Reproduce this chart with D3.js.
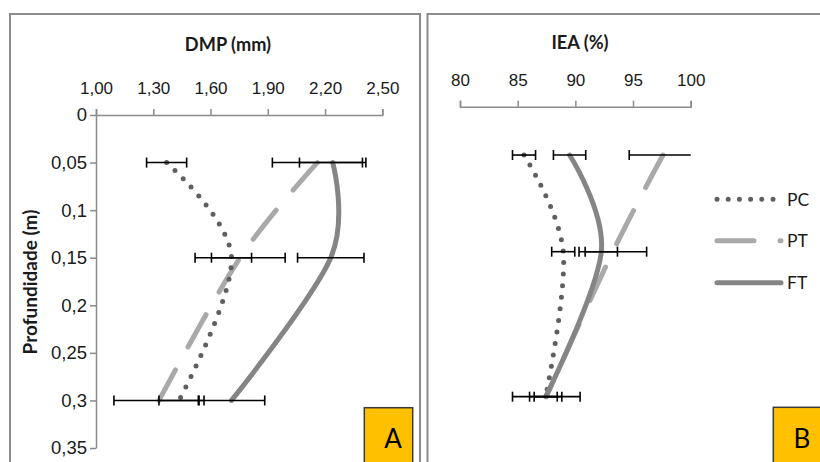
<!DOCTYPE html>
<html>
<head>
<meta charset="utf-8">
<script src="https://cdn.jsdelivr.net/npm/d3@7"></script>
<style>
  body { margin: 0; background: #fff; }
  svg { display: block; font-family: Lato, "Open Sans", sans-serif; }
</style>
</head>
<body>
<script>
// ---------- DATA ----------
const depths = [0.05, 0.15, 0.3];
const seriesNames = ["PC", "PT", "FT"];

// Panel A: DMP (mm)
const dmpPC = [1.37, 1.71, 1.435];
const dmpPT = [2.16, 1.755, 1.33];
const dmpFT = [2.24, 2.23, 1.71];
const dmpErrPC = [0.105, 0.105, 0.105];
const dmpErrPT = [0.236, 0.236, 0.236];
const dmpErrFT = [0.174, 0.174, 0.174];
const dmpTicks = [1.0, 1.3, 1.6, 1.9, 2.2, 2.5];
const dmpTickLabels = ["1,00", "1,30", "1,60", "1,90", "2,20", "2,50"];

// Panel B: IEA (%)
const ieaPC = [85.55, 88.95, 87.43];
const ieaPT = [97.6, 93.25, 87.48];
const ieaFT = [89.5, 92.25, 87.43];
const ieaErrPC = [1.0, 1.0, 1.0];
const ieaErrPT = [2.93, 2.93, 2.93];
const ieaErrFT = [1.4, 1.4, 1.4];
const ieaTicks = [80, 85, 90, 95, 100];
const ieaTickLabels = ["80", "85", "90", "95", "100"];

// Depth axis
const depthTicks = [0, 0.05, 0.1, 0.15, 0.2, 0.25, 0.3, 0.35];
const depthTickLabels = ["0", "0,05", "0,1", "0,15", "0,2", "0,25", "0,3", "0,35"];

// ---------- STYLES ----------
const styles = {
  PC: { color: "#5f5f5f", width: 5, dash: "0 11.6", cap: "round" },
  PT: { color: "#a9a9a9", width: 5, dash: "37 26", cap: "round" },
  FT: { color: "#858585", width: 5, dash: null, cap: "round" }
};
const axisColor = "#8a8a8a";
const textColor = "#1a1a1a";

const svg = d3.select("body").append("svg").attr("width", 820).attr("height", 462);

// panel frames
svg.append("rect").attr("x", 10).attr("y", 14).attr("width", 410).attr("height", 470)
  .attr("fill", "#fff").attr("stroke", "#8c8c8c").attr("stroke-width", 2);
svg.append("rect").attr("x", 427.5).attr("y", 14).attr("width", 420).attr("height", 470)
  .attr("fill", "#fff").attr("stroke", "#8c8c8c").attr("stroke-width", 2);

const panels = [
  {
    id: "A", title: "DMP (mm)", titleX: 228, titleY: 51,
    x: d3.scaleLinear().domain([1.0, 2.5]).range([96, 382.3]),
    y: d3.scaleLinear().domain([0, 0.35]).range([115, 448]),
    ticks: dmpTicks, tickLabels: dmpTickLabels, showY: true,
    data: { PC: dmpPC, PT: dmpPT, FT: dmpFT },
    err: { PC: dmpErrPC, PT: dmpErrPT, FT: dmpErrFT },
    box: { x: 364.3, y: 407.7, w: 48.4, tx: 393 }
  },
  {
    id: "B", title: "IEA (%)", titleX: 580, titleY: 49,
    x: d3.scaleLinear().domain([80, 100]).range([460, 690.7]),
    y: d3.scaleLinear().domain([0, 0.35]).range([106.7, 445]),
    ticks: ieaTicks, tickLabels: ieaTickLabels, showY: false,
    data: { PC: ieaPC, PT: ieaPT, FT: ieaFT },
    err: { PC: ieaErrPC, PT: ieaErrPT, FT: ieaErrFT },
    box: { x: 773.3, y: 407.3, w: 80, tx: 802 }
  }
];

panels.forEach(p => {
  const g = svg.append("g");
  const y0 = p.y(0);

  // x axis (top)
  const xAxis = d3.axisTop(p.x).tickValues(p.ticks)
    .tickFormat((d, i) => p.tickLabels[i]).tickSize(6).tickPadding(15);
  const gx = g.append("g").attr("transform", `translate(0,${y0})`).call(xAxis);
  gx.select(".domain").attr("stroke", axisColor).attr("stroke-width", 1.5);
  gx.selectAll(".tick line").attr("stroke", axisColor).attr("stroke-width", 1.5);
  gx.selectAll(".tick text").attr("fill", textColor).attr("font-size", 17);

  // y axis
  if (p.showY) {
    const yAxis = d3.axisLeft(p.y).tickValues(depthTicks)
      .tickFormat((d, i) => depthTickLabels[i]).tickSize(6).tickPadding(3).tickSizeOuter(0);
    const gy = g.append("g").attr("transform", `translate(${p.x.range()[0]},0)`).call(yAxis);
    gy.select(".domain").attr("stroke", axisColor).attr("stroke-width", 1.5);
    gy.selectAll(".tick line").attr("stroke", axisColor).attr("stroke-width", 1.5);
    gy.selectAll(".tick text").attr("fill", textColor).attr("font-size", 18.5);
    svg.append("text").attr("transform", `translate(37,282) rotate(-90)`)
      .attr("text-anchor", "middle").attr("font-weight", "bold").attr("font-size", 19)
      .attr("fill", textColor).text("Profundidade (m)");
  }

  // title
  svg.append("text").attr("x", p.titleX).attr("y", p.titleY).attr("text-anchor", "middle")
    .attr("font-weight", "bold").attr("font-size", 18.2).attr("fill", textColor).text(p.title);

  // lines
  const line = d3.line().curve(d3.curveCatmullRom.alpha(0))
    .x(d => p.x(d[0])).y(d => p.y(d[1]));
  ["PT", "PC", "FT"].forEach(s => {
    const st = styles[s];
    const pts = p.data[s].map((v, i) => [v, depths[i]]);
    g.append("path").attr("d", line(pts)).attr("fill", "none")
      .attr("stroke", st.color).attr("stroke-width", st.width)
      .attr("stroke-linecap", st.cap).attr("stroke-dasharray", st.dash);
  });

  // error bars
  const [xmin, xmax] = p.x.domain();
  seriesNames.forEach(s => {
    p.data[s].forEach((v, i) => {
      const e = p.err[s][i];
      const lo = v - e, hi = v + e;
      const cy = p.y(depths[i]);
      const x1 = p.x(Math.max(lo, xmin)), x2 = p.x(Math.min(hi, xmax));
      g.append("line").attr("x1", x1).attr("x2", x2).attr("y1", cy).attr("y2", cy)
        .attr("stroke", "#000").attr("stroke-width", 1.6);
      [[lo, lo >= xmin], [hi, hi <= xmax]].forEach(([val, ok]) => {
        if (!ok) return;
        g.append("line").attr("x1", p.x(val)).attr("x2", p.x(val))
          .attr("y1", cy - 5).attr("y2", cy + 5).attr("stroke", "#000").attr("stroke-width", 1.6);
      });
    });
  });

  // panel label box
  svg.append("rect").attr("x", p.box.x).attr("y", p.box.y).attr("width", p.box.w).attr("height", 80)
    .attr("fill", "#ffc000").attr("stroke", "#3a3a3a").attr("stroke-width", 1.5);
  svg.append("text").attr("x", p.box.tx).attr("y", 448).attr("text-anchor", "middle")
    .attr("font-size", 26).attr("fill", "#000").text(p.id);
});

// legend (panel B)
const legY = [199.3, 240.7, 282.7];
const legX = d3.scaleLinear().domain([0, 1]).range([717, 781]);
seriesNames.forEach((s, i) => {
  const st = styles[s];
  svg.append("line").attr("x1", legX(0)).attr("x2", s === "PC" ? legX(0.93) : legX(1))
    .attr("y1", legY[i]).attr("y2", legY[i])
    .attr("stroke", st.color).attr("stroke-width", st.width)
    .attr("stroke-linecap", st.cap).attr("stroke-dasharray", s === "PC" ? "0 11.2" : st.dash);
  svg.append("text").attr("x", 787).attr("y", legY[i] + 6.5).attr("font-size", 17.5)
    .attr("fill", textColor).text(s);
});
</script>
</body>
</html>
